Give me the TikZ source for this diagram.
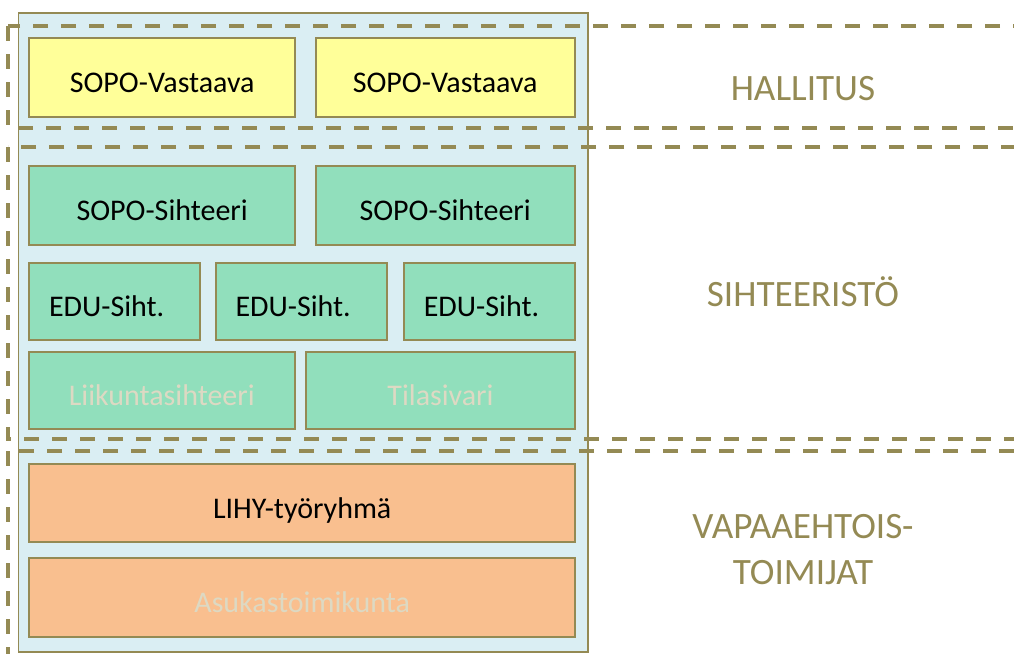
\documentclass[tikz,border=0pt]{standalone}
\usepackage{fontspec}
\setmainfont{Carlito}
\definecolor{olive}{RGB}{148,138,84}
\definecolor{bgblue}{RGB}{218,238,243}
\definecolor{yel}{RGB}{255,255,153}
\definecolor{grn}{RGB}{145,223,188}
\definecolor{org}{RGB}{249,191,143}
\definecolor{faint}{RGB}{221,217,195}
\tikzset{
  box/.style={draw=olive, line width=2pt, inner sep=0pt, rectangle,
    font=\fontsize{30}{36}\selectfont, text height=30.4pt, text depth=0pt},
  band/.style={draw=olive, line width=4pt, dash pattern=on 15pt off 13pt},
  level/.style={text=olive, font=\fontsize{37.2}{46}\selectfont, anchor=base, inner sep=0pt},
}
\begin{document}
\begin{tikzpicture}[x=1pt,y=-1pt]
\useasboundingbox (0,0) rectangle (1014,653);
\clip (0,0) rectangle (1014,653);
% background panel
\path[fill=bgblue, draw=olive, line width=1.5pt] (18.3,13) rectangle (588,652);
% row 1
\node[box, fill=yel, minimum width=265.7pt, minimum height=78.4pt] (v1) at (162.2,77.5) {SOPO-Vastaava};
\node[box, fill=yel, minimum width=259pt, minimum height=78.4pt] (v2) at (445.2,77.5) {SOPO-Vastaava};
% row 2
\node[box, fill=grn, minimum width=265.7pt, minimum height=79pt] (s1) at (162.2,205.5) {SOPO-Sihteeri};
\node[box, fill=grn, minimum width=259pt, minimum height=79pt] (s2) at (445.2,205.5) {SOPO-Sihteeri};
% row 3
\node[box, fill=grn, minimum width=170.7pt, minimum height=77.3pt] (e1) at (114.7,301.3) {EDU-Siht.\kern16pt};
\node[box, fill=grn, minimum width=171pt, minimum height=77.3pt] (e2) at (301.2,301.3) {EDU-Siht.\kern16pt};
\node[box, fill=grn, minimum width=171pt, minimum height=77.3pt] (e3) at (489.5,301.3) {EDU-Siht.\kern16pt};
% row 4
\node[box, fill=grn, text=faint, minimum width=265.5pt, minimum height=77.6pt] (l1) at (161.8,390.5) {Liikuntasihteeri};
\node[box, fill=grn, text=faint, minimum width=269pt, minimum height=77.6pt] (t1) at (440.5,390.5) {Tilasivari};
% row 5, 6
\node[box, fill=org, minimum width=545.7pt, minimum height=78pt] (lihy) at (302.2,503) {LIHY-työryhmä};
\node[box, fill=org, text=faint, minimum width=545.7pt, minimum height=78.7pt] (asuk) at (302.2,597.3) {Asukastoimikunta};
% dashed bands
\draw[band] (8,26) rectangle (1060,128);
\draw[band] (8,147) rectangle (1060,439);
\draw[band] (8,451) rectangle (1060,700);
% level labels
\node[level] (hal) at (803,100.7) {HALLITUS};
\node[level] (sih) at (803,306.7) {SIHTEERISTÖ};
\node[level] (vap1) at (803,538.3) {VAPAAEHTOIS-};
\node[level] (vap2) at (803,584) {TOIMIJAT};
\end{tikzpicture}
\end{document}
